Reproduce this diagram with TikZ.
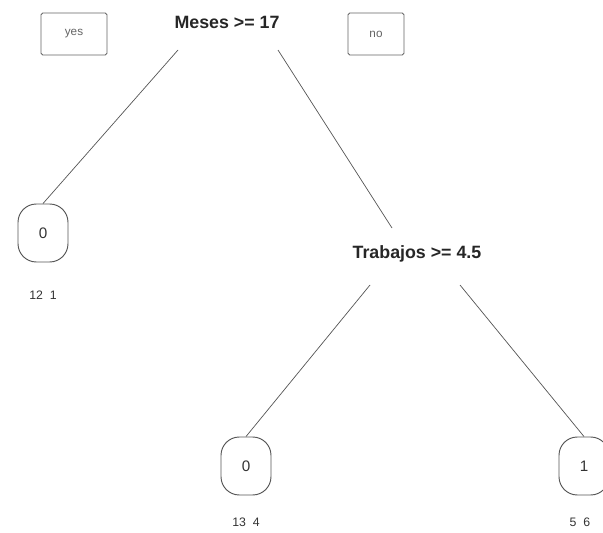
\documentclass[tikz,border=0pt]{standalone}
\usepackage{fontspec}
\setmainfont{Liberation Sans}
\definecolor{edgegray}{RGB}{85,85,85}
\definecolor{textgray}{RGB}{100,100,100}

\begin{document}
\begin{tikzpicture}[x=0.03cm, y=-0.03cm,
    split/.style={font=\fontsize{15.2}{17}\selectfont\bfseries, text=black!85},
    leaf/.style={draw=edgegray, line width=0.8pt, rounded corners=0.55cm,
      minimum width=1.5cm, minimum height=1.74cm,
      font=\fontsize{13}{15}\selectfont, text=black!80},
    counts/.style={font=\fontsize{10.5}{12}\selectfont, text=black!80},
    tag/.style={draw=textgray, line width=0.8pt, rounded corners=1.5pt,
      minimum width=1.98cm, minimum height=1.26cm,
      font=\fontsize{10}{12}\selectfont, text=textgray}]
    \useasboundingbox (0,0) rectangle (603,533);
    \clip (0,0) rectangle (603,533);
    % labels of the first split
    \node[tag] (yes) at (74,34) {yes};
    \node[tag, minimum width=1.68cm] (no) at (376,34) {no};
    % splits
    \node[split] (meses) at (227,22) {Meses >= 17};
    \node[split] (trabajos) at (417,254) {Trabajos >= 4.5};
    \coordinate (mesesL) at (178,50);
    \coordinate (mesesR) at (278,50);
    \coordinate (trabajosT) at (392,228);
    \coordinate (trabajosL) at (370,285);
    \coordinate (trabajosR) at (460,285);
    % leaves
    \node[leaf] (a) at (43,233) {0};
    \node[counts] (ca) at (43,295) {12\ \ 1};
    \node[leaf] (b) at (246,466) {0};
    \node[counts] (cb) at (246,522) {13\ \ 4};
    \node[leaf] (c) at (584,466) {1};
    \node[counts] (cc) at (580,522) {5\ \ 6};
    \draw[edgegray, line width=0.6pt] (mesesL) -- (a.north)
        (mesesR) -- (trabajosT)
        (trabajosL) -- (b.north)
        (trabajosR) -- (c.north);
\end{tikzpicture}
\end{document}
